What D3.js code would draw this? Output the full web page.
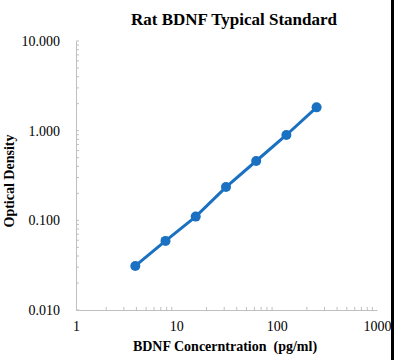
<!DOCTYPE html>
<html><head><meta charset="utf-8">
<script src="https://cdn.jsdelivr.net/npm/d3@7"></script>
<style>body{margin:0;background:#fff}svg{display:block}</style>
</head><body>
<svg id="c" width="394" height="360"></svg>
<script>
const concentrations = [3.9, 7.8, 15.6, 31.25, 62.5, 125, 250];
const odValues = [0.031, 0.059, 0.110, 0.235, 0.459, 0.895, 1.82];
const xTickValues = [1, 10, 100, 1000];
const xTickLabels = ["1", "10", "100", "1000"];
const yTickValues = [0.01, 0.1, 1, 10];
const yTickLabels = ["0.010", "0.100", "1.000", "10.000"];
const title = "Rat BDNF Typical Standard";
const xTitle = "BDNF Concerntration  (pg/ml)";
const yTitle = "Optical Density";

const svg = d3.select("#c");
const serif = "'Liberation Serif','DejaVu Serif',serif";
const x = d3.scaleLog().domain([1, 1000]).range([76, 377]);
const y = d3.scaleLog().domain([0.01, 10]).range([310, 41]);
const axisColor = "#bfbfbf";

const minorX = [], minorY = [];
for (let d = 1; d < 1000; d *= 10) for (let k = 2; k <= 9; k++) minorX.push(d * k);
for (let d = 0.01; d < 10; d *= 10) for (let k = 2; k <= 9; k++) minorY.push(d * k);

// X axis
const gx = svg.append("g").attr("transform", "translate(0,310)")
  .call(d3.axisBottom(x).tickValues(xTickValues).tickFormat((d, i) => xTickLabels[i]).tickSize(0).tickPadding(11));
gx.select(".domain").attr("stroke", axisColor);
gx.selectAll("text").attr("font-family", serif).attr("font-size", 14).attr("fill", "#000");
gx.append("g").selectAll("line").data(minorX).join("line")
  .attr("x1", d => x(d)).attr("x2", d => x(d)).attr("y1", 0).attr("y2", -3).attr("stroke", axisColor);

// Y axis
const gy = svg.append("g").attr("transform", "translate(76,0)")
  .call(d3.axisLeft(y).tickValues(yTickValues).tickFormat((d, i) => yTickLabels[i]).tickSize(0).tickPadding(16));
gy.select(".domain").attr("stroke", axisColor);
gy.selectAll("text").attr("font-family", serif).attr("font-size", 14).attr("fill", "#000");
gy.append("g").selectAll("line").data(minorY.concat(yTickValues)).join("line")
  .attr("y1", d => y(d)).attr("y2", d => y(d)).attr("x1", 0).attr("x2", 3).attr("stroke", axisColor);

// Line + markers
const pts = concentrations.map((c, i) => [c, odValues[i]]);
svg.append("path").datum(pts)
  .attr("fill", "none").attr("stroke", "#1a70c1").attr("stroke-width", 3)
  .attr("d", d3.line().x(d => x(d[0])).y(d => y(d[1])));
svg.append("g").selectAll("circle").data(pts).join("circle")
  .attr("cx", d => x(d[0])).attr("cy", d => y(d[1])).attr("r", 5)
  .attr("fill", "#1a70c1");

// Titles
svg.append("text").attr("x", 234).attr("y", 25).attr("text-anchor", "middle")
  .attr("font-family", serif).attr("font-weight", "bold").attr("font-size", 17).text(title);
svg.append("text").attr("x", 225).attr("y", 351).attr("text-anchor", "middle")
  .attr("font-family", serif).attr("font-weight", "bold").attr("font-size", 14)
  .style("white-space", "pre").text(xTitle);
svg.append("text").attr("transform", "translate(14,181) rotate(-90)").attr("text-anchor", "middle")
  .attr("font-family", serif).attr("font-weight", "bold").attr("font-size", 14).text(yTitle);

// right edge dark strip
svg.append("rect").attr("x", 391).attr("y", 0).attr("width", 3).attr("height", 360).attr("fill", "#000");
</script>
</body></html>
